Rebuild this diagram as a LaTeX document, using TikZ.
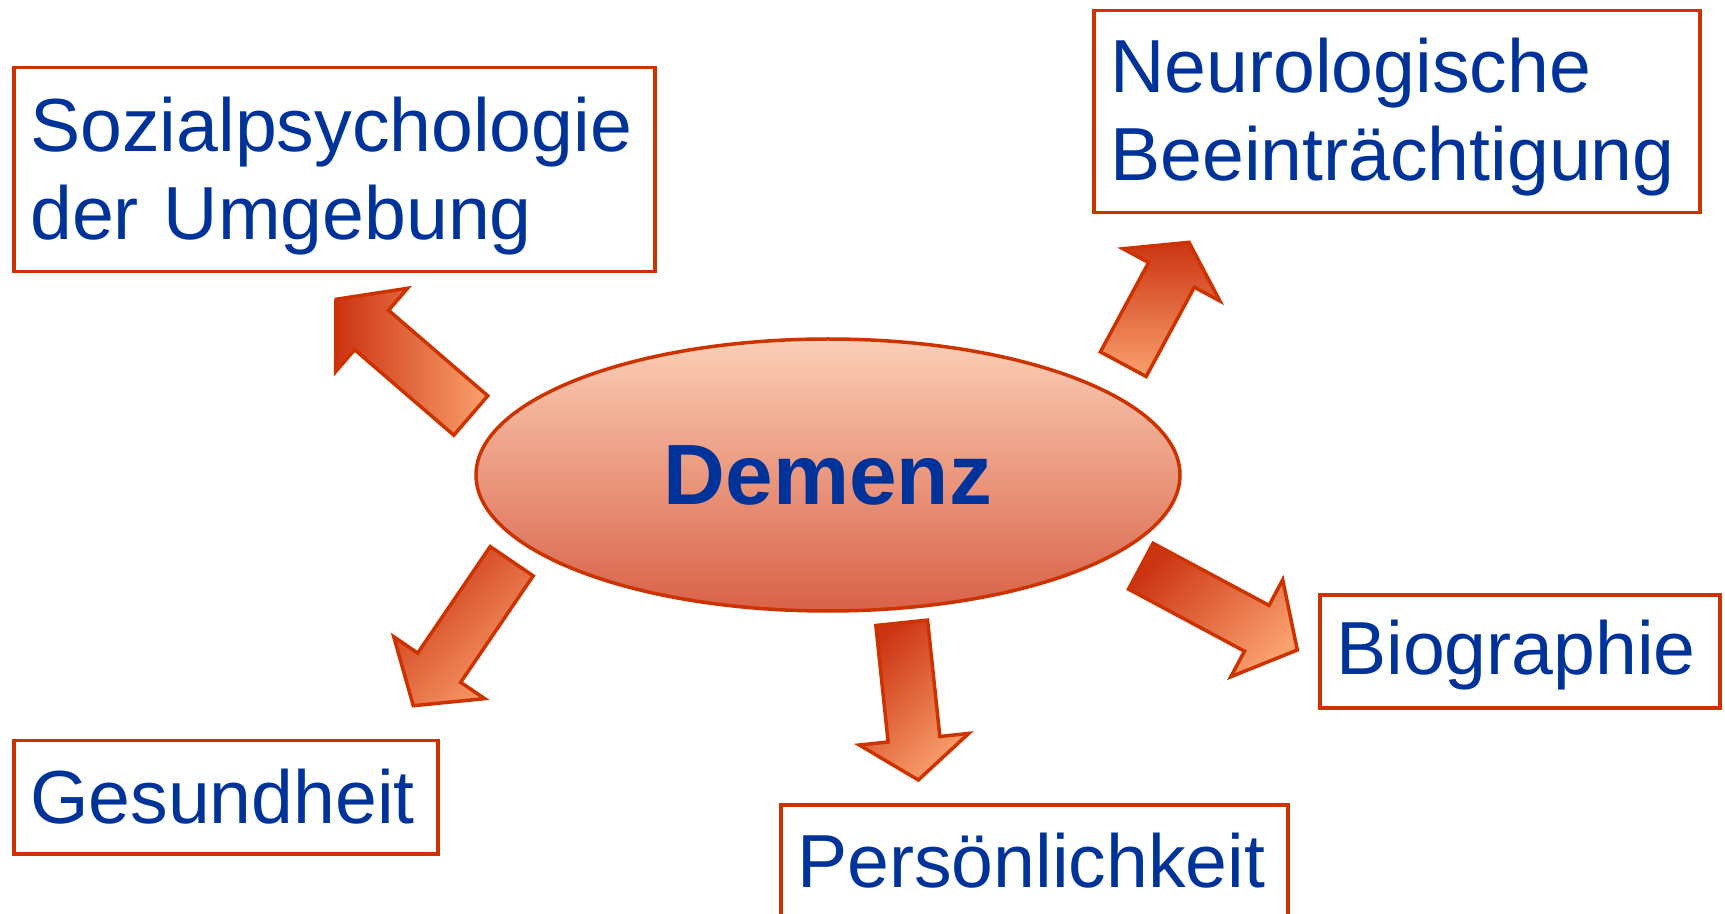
\documentclass[tikz,border=0pt]{standalone}
\usepackage{fontspec}
\setmainfont{Liberation Sans}
\usetikzlibrary{shapes.geometric,calc}
\definecolor{boxred}{RGB}{204,51,0}
\definecolor{textblue}{RGB}{0,51,153}
\definecolor{arrowdark}{RGB}{204,52,18}
\definecolor{arrowlight}{RGB}{250,160,110}
\definecolor{ellipsetop}{RGB}{252,206,182}
\definecolor{ellipsebottom}{RGB}{216,98,72}
\tikzset{
	topicbox/.style={draw=boxred, line width=1.75pt, text=textblue, font=\fontsize{37.6}{44}\selectfont, align=left, inner xsep=8.25pt, inner ysep=0pt, anchor=north west},
	blockshade/.style={draw=boxred, line width=1.75pt},
	centerblob/.style={ellipse, draw=boxred, line width=1.75pt, top color=ellipsetop, bottom color=ellipsebottom, inner sep=0pt, text=textblue, font=\fontsize{42.8}{50}\selectfont\bfseries},
}
% block arrow from tail #1 to tip #2, head length #3, shading #4
\newcommand{\blockarrow}[4]{%
	\coordinate (#1-base) at ($(#2)!#3!(#1)$);
	\shadedraw[blockshade,#4] ($(#1)!13pt!90:(#2)$) -- ($(#1-base)!13pt!90:(#2)$) -- ($(#1-base)!27.5pt!90:(#2)$) -- (#2) -- ($(#1-base)!27.5pt!-90:(#2)$) -- ($(#1-base)!13pt!-90:(#2)$) -- ($(#1)!13pt!-90:(#2)$) -- cycle;
}

\begin{document}
\begin{tikzpicture}[x=0.5pt,y=-0.5pt]
	\useasboundingbox (0,0) rectangle (1725,914);
	% arrows
	\coordinate (sozT) at (470.8,415.5);   \coordinate (sozH) at (336,299.3);
	\coordinate (neuroT) at (1123.3,364.2); \coordinate (neuroH) at (1189,242.3);
	\coordinate (persT) at (901.7,622.8);  \coordinate (persH) at (918.3,780);
	\coordinate (bioT) at (1140.8,566.2);  \coordinate (bioH) at (1297.3,650);
	\coordinate (gesT) at (511.7,561.2);   \coordinate (gesH) at (413.3,705.7);
	\blockarrow{sozT}{sozH}{23.5pt}{left color=arrowdark, right color=arrowlight}
	\blockarrow{neuroT}{neuroH}{18.5pt}{top color=arrowdark, bottom color=arrowlight}
	\blockarrow{persT}{persH}{20.5pt}{top color=arrowdark, bottom color=arrowlight, shading angle=45}
	\blockarrow{bioT}{bioH}{23pt}{top color=arrowdark, bottom color=arrowlight, shading angle=45}
	\blockarrow{gesT}{gesH}{23pt}{top color=arrowdark, bottom color=arrowlight, shading angle=45}
	% centre
	\node[centerblob, minimum width=352pt, minimum height=136pt] (demenz) at (828,475) {Demenz};
	% topics
	\node[topicbox, text width=304pt, text height=42pt, text depth=60pt] (soz) at (12,66) {Sozialpsychologie\\der Umgebung};
	\node[topicbox, text width=286.5pt, text height=41pt, text depth=60pt] (neuro) at (1092,9) {Neurologische\\Beeinträchtigung};
	\node[topicbox, text width=183.5pt, text height=40pt, text depth=16.5pt] (bio) at (1318,593) {Biographie};
	\node[topicbox, text width=195.5pt, text height=41.75pt, text depth=15pt] (ges) at (12,738.5) {Gesundheit};
	\node[topicbox, text width=237pt, text height=41.5pt, text depth=15pt] (pers) at (779,803) {Persönlichkeit};
\end{tikzpicture}
\end{document}
